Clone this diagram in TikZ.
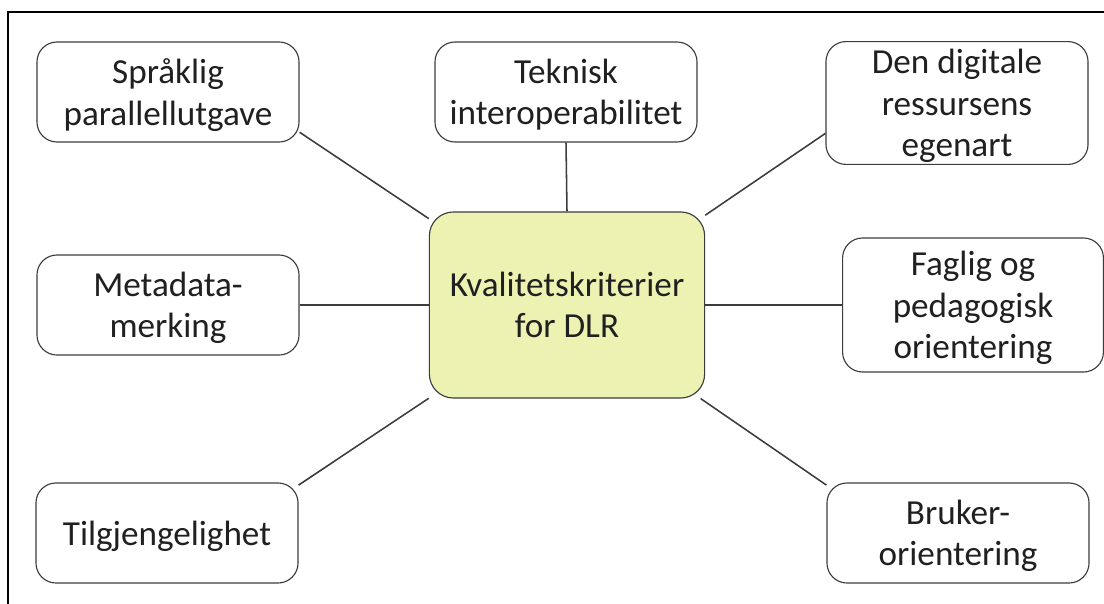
\documentclass[tikz,border=0pt]{standalone}
\usepackage{fontspec}
\setmainfont{Carlito}
\usepackage{xcolor}
\definecolor{dlrfill}{HTML}{EDF2B2}
\definecolor{dlrline}{HTML}{3C3C3C}
\definecolor{dlrtekst}{HTML}{202020}
\usetikzlibrary{positioning,calc}

\begin{document}
\begin{tikzpicture}[x=0.025cm,y=-0.025cm,
  kritbox/.style={draw=dlrline,line width=0.8pt,rounded corners=0.5cm,
    fill=white,align=center,inner sep=1pt,text=dlrtekst,text depth=0pt,
    minimum width=6.55cm,minimum height=2.5cm,
    font=\fontsize{25}{29.5}\selectfont},
  hovedbox/.style={kritbox,fill=dlrfill,rounded corners=0.6cm,
    minimum width=6.88cm,minimum height=4.65cm},
  forb/.style={draw=dlrline,line width=1.1pt}]
\useasboundingbox (0,0) rectangle (1104,604);
% ramme
\draw[line width=1.6pt] (8,604) -- (8,12) -- (1104,12);

\node[hovedbox] (kval) at (567,305) {Kvalitetskriterier\\for DLR};

\node[kritbox] (spr) at (168,92) {Språklig\\parallellutgave};
\node[kritbox] (tek) at (566,92) {Teknisk\\interoperabilitet};
\node[kritbox,minimum height=3.07cm] (den) at (957,103) {Den digitale\\ressursens\\egenart};
\node[kritbox] (meta) at (168,305) {Metadata-\\merking};
\node[kritbox,minimum width=6.52cm,minimum height=3.35cm] (fag) at (973,305) {Faglig og\\pedagogisk\\orientering};
\node[kritbox] (tilg) at (167,533) {Tilgjengelighet};
\node[kritbox] (bru) at (958,533) {Bruker-\\orientering};

% forbindelser
\draw[forb] (spr.-17) -- (kval.148);
\draw[forb] (tek.south) -- (kval.north);
\draw[forb] (den.193) -- (kval.33);
\draw[forb] (meta.east) -- (kval.west);
\draw[forb] (kval.east) -- (kval.east -| fag.west);
\draw[forb] (tilg.20) -- (kval.214);
\draw[forb] (bru.160) -- (kval.-35);
\end{tikzpicture}
\end{document}
